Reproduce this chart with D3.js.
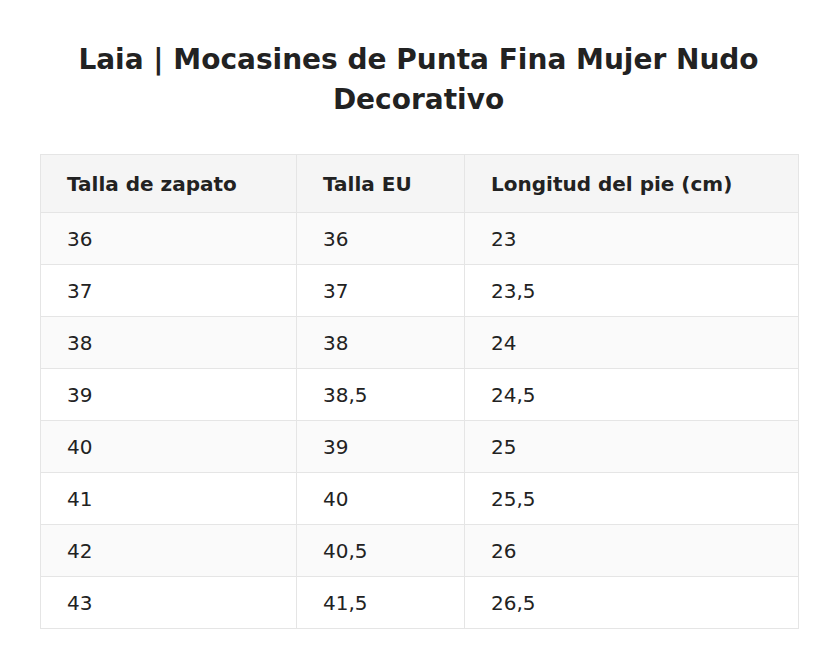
<!DOCTYPE html>
<html lang="es">
<head>
<meta charset="utf-8">
<script src="https://d3js.org/d3.v7.min.js"></script>
<style>
  body { margin: 0; background: #fff; font-family: "DejaVu Sans", sans-serif; color: #222; }
  h1 { font-size: 28px; font-weight: bold; text-align: center; line-height: 40px; margin: 0; padding-top: 40px; width: 837px; }
  table { position: absolute; left: 40px; top: 154px; border-collapse: collapse; font-size: 20px; }
  td, th { border: 1px solid #e5e5e5; text-align: left; padding: 0 0 0 26px; height: 51px; }
  th { background: #f5f5f5; height: 57px; }
  tbody tr:nth-child(odd) { background: #fafafa; }
</style>
</head>
<body>
<h1>Laia | Mocasines de Punta Fina Mujer Nudo<br>Decorativo</h1>
<script>
var headers = ["Talla de zapato", "Talla EU", "Longitud del pie (cm)"];
var shoeSizes = ["36", "37", "38", "39", "40", "41", "42", "43"];
var euSizes = ["36", "37", "38", "38,5", "39", "40", "40,5", "41,5"];
var footLength = ["23", "23,5", "24", "24,5", "25", "25,5", "26", "26,5"];
var colWidths = [256, 168, 334];

var rows = shoeSizes.map(function(d, i) { return [d, euSizes[i], footLength[i]]; });

var table = d3.select("body").append("table");
table.append("colgroup").selectAll("col").data(colWidths).enter().append("col")
  .style("width", function(d) { return d + "px"; });
table.append("thead").append("tr").selectAll("th").data(headers).enter().append("th")
  .text(function(d) { return d; });
table.append("tbody").selectAll("tr").data(rows).enter().append("tr")
  .selectAll("td").data(function(d) { return d; }).enter().append("td")
  .text(function(d) { return d; });
</script>
</body>
</html>
